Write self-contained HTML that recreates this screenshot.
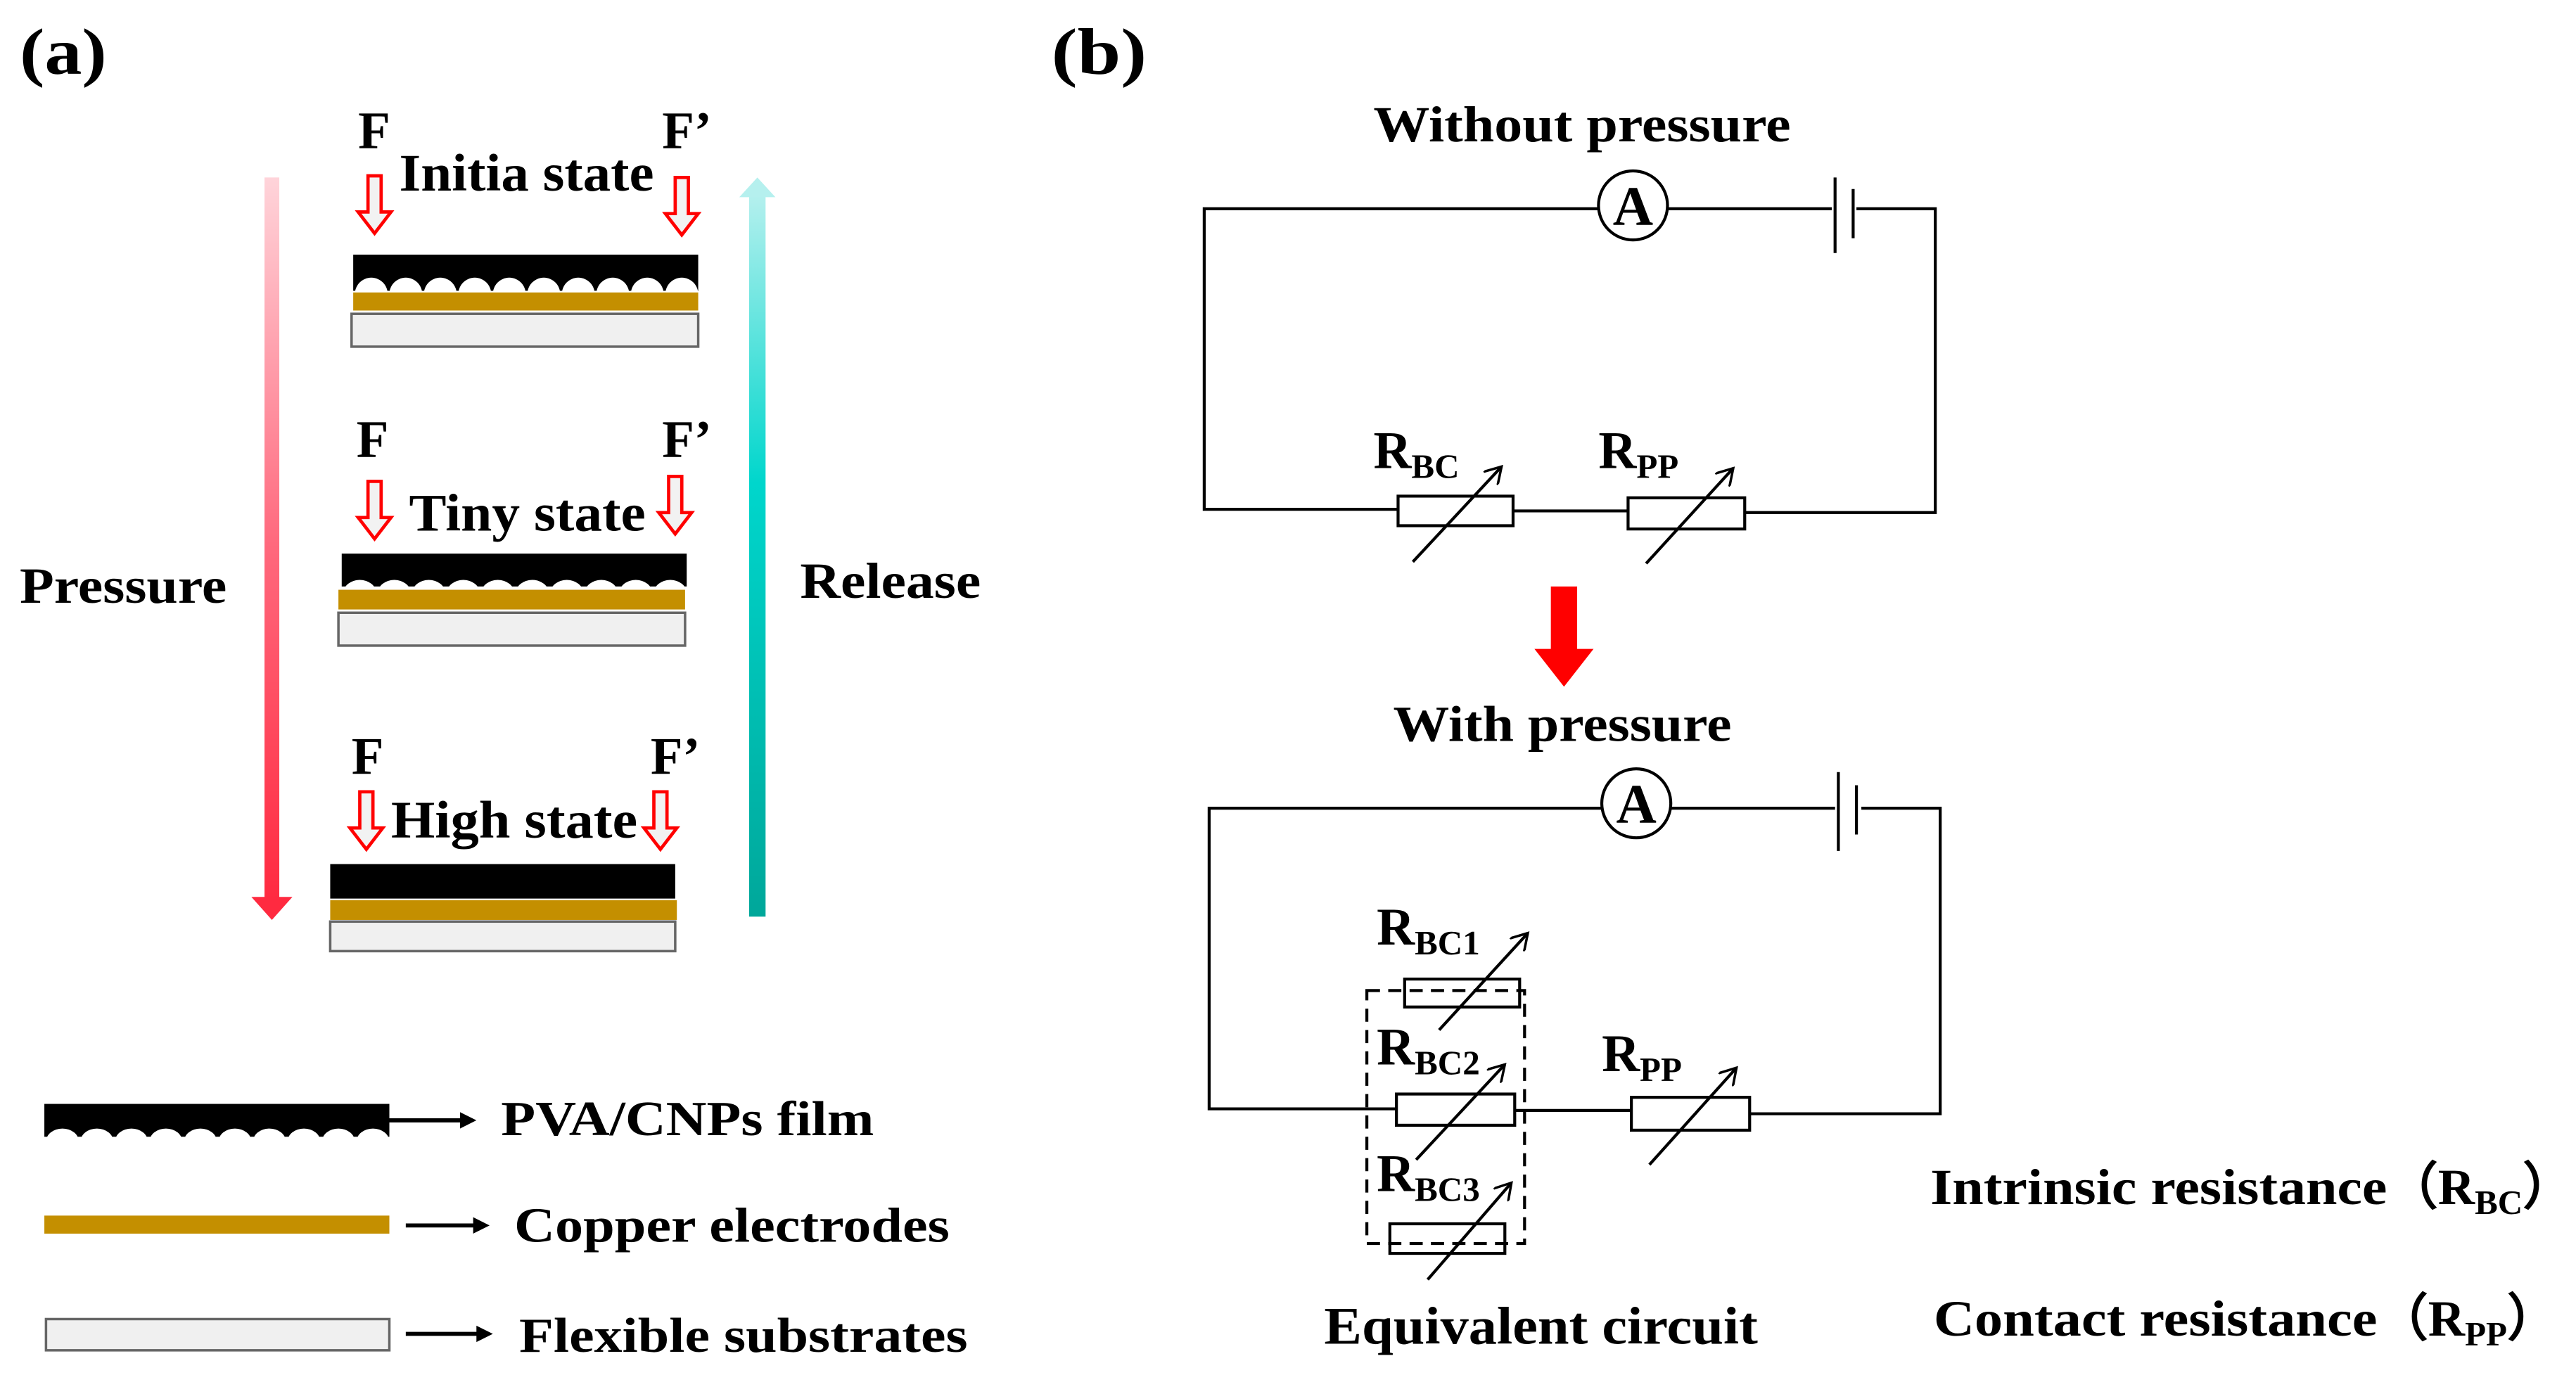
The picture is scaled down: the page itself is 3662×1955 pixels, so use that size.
<!DOCTYPE html>
<html><head><meta charset="utf-8"><style>
html,body{margin:0;padding:0;background:#fff;}
svg{display:block;}
text{font-family:"Liberation Serif",serif;font-weight:bold;fill:#000;}
</style></head><body>
<svg width="3662" height="1955" viewBox="0 0 1568 837" xmlns="http://www.w3.org/2000/svg">
<defs>
<linearGradient id="pr" x1="0" y1="0" x2="0" y2="1"><stop offset="0" stop-color="#ffd4da"/><stop offset="0.5" stop-color="#ff6a7e"/><stop offset="1" stop-color="#ff2a40"/></linearGradient>
<linearGradient id="rl" x1="0" y1="1" x2="0" y2="0"><stop offset="0" stop-color="#00a79a"/><stop offset="0.6" stop-color="#00d6cc"/><stop offset="1" stop-color="#b5f0ee"/></linearGradient>
<g id="harrow"><path d="M-4,0 h8 v22 h6 l-10,13 l-10,-13 h6 z" fill="#f2f2f2" stroke="#ff0000" stroke-width="2"/></g>
<g id="bumps"><circle cx="10" cy="0" r="10"/><circle cx="31" cy="0" r="10"/><circle cx="52" cy="0" r="10"/><circle cx="73" cy="0" r="10"/><circle cx="94" cy="0" r="10"/><circle cx="115" cy="0" r="10"/><circle cx="136" cy="0" r="10"/><circle cx="157" cy="0" r="10"/><circle cx="178" cy="0" r="10"/><circle cx="199" cy="0" r="10"/></g>
<marker id="ah" markerWidth="12" markerHeight="12" refX="10" refY="6" orient="auto" markerUnits="userSpaceOnUse"><path d="M0,0 L10,6 L0,12" fill="none" stroke="#000" stroke-width="1.5"/></marker>
</defs>
<text x="12" y="45" font-size="40" textLength="53" lengthAdjust="spacingAndGlyphs">(a)</text>
<text x="640" y="45" font-size="40" textLength="58" lengthAdjust="spacingAndGlyphs">(b)</text>
<rect x="161" y="108" width="9" height="440" fill="url(#pr)"/>
<path d="M153,546 h25 l-12.5,14 z" fill="#ff2a40"/>
<rect x="456" y="118" width="10" height="440" fill="url(#rl)"/>
<path d="M450,120 h22 l-11,-12 z" fill="#b5f0ee"/>
<text x="12" y="367" font-size="31" textLength="126" lengthAdjust="spacingAndGlyphs">Pressure</text>
<text x="487" y="364" font-size="31" textLength="110" lengthAdjust="spacingAndGlyphs">Release</text>
<text x="218" y="90" font-size="32">F</text><text x="403" y="90" font-size="32">F’</text>
<text x="243" y="116" font-size="32" textLength="155" lengthAdjust="spacingAndGlyphs">Initia state</text>
<use href="#harrow" x="228" y="107"/><use href="#harrow" x="415" y="108"/>
<rect x="215" y="155" width="210" height="22" fill="#000"/>
<g fill="#fff" transform="translate(216,179)"><use href="#bumps"/></g>
<rect x="215" y="178" width="210" height="11" fill="#c48f00"/>
<rect x="214" y="191" width="211" height="20" fill="#f0f0f0" stroke="#666" stroke-width="1.5"/>
<text x="217" y="278" font-size="32">F</text><text x="403" y="278" font-size="32">F’</text>
<text x="249" y="323" font-size="32" textLength="144" lengthAdjust="spacingAndGlyphs">Tiny state</text>
<use href="#harrow" x="228" y="293"/><use href="#harrow" x="411" y="290"/>
<rect x="208" y="337" width="210" height="20" fill="#000"/>
<g fill="#fff" transform="translate(209,361) scale(1,0.8)"><use href="#bumps"/></g>
<rect x="206" y="359" width="211" height="12" fill="#c48f00"/>
<rect x="206" y="373" width="211" height="20" fill="#f0f0f0" stroke="#666" stroke-width="1.5"/>
<text x="214" y="471" font-size="32">F</text><text x="396" y="471" font-size="32">F’</text>
<text x="238" y="510" font-size="32" textLength="150" lengthAdjust="spacingAndGlyphs">High state</text>
<use href="#harrow" x="223" y="482"/><use href="#harrow" x="402" y="482"/>
<rect x="201" y="526" width="210" height="21" fill="#000"/>
<rect x="201" y="548" width="211" height="12" fill="#c48f00"/>
<rect x="201" y="561" width="210" height="18" fill="#f0f0f0" stroke="#666" stroke-width="1.5"/>
<rect x="27" y="672" width="210" height="20" fill="#000"/>
<g fill="#fff" transform="translate(28,695) scale(1,0.8)"><use href="#bumps"/></g>
<line x1="237" y1="682" x2="282" y2="682" stroke="#000" stroke-width="2.5"/><path d="M280,677 l10,5 l-10,5 z"/>
<text x="305" y="691" font-size="30" textLength="227" lengthAdjust="spacingAndGlyphs">PVA/CNPs film</text>
<rect x="27" y="740" width="210" height="11" fill="#c48f00"/>
<line x1="247" y1="746" x2="290" y2="746" stroke="#000" stroke-width="2.5"/><path d="M288,741 l10,5 l-10,5 z"/>
<text x="313" y="756" font-size="30" textLength="265" lengthAdjust="spacingAndGlyphs">Copper electrodes</text>
<rect x="28" y="803" width="209" height="19" fill="#f0f0f0" stroke="#666" stroke-width="1.5"/>
<line x1="247" y1="812" x2="292" y2="812" stroke="#000" stroke-width="2.5"/><path d="M290,807 l10,5 l-10,5 z"/>
<text x="316" y="823" font-size="30" textLength="273" lengthAdjust="spacingAndGlyphs">Flexible substrates</text>
<text x="836" y="86" font-size="31" textLength="254" lengthAdjust="spacingAndGlyphs">Without pressure</text>
<g fill="none" stroke="#000" stroke-width="1.8">
<path d="M973,127 H733 V310 H851 M921,311 H991 M1062,312 H1178 V127 H1130 M1115,127 H1015"/>
<circle cx="994" cy="125" r="21"/>
<line x1="1117" y1="108" x2="1117" y2="154"/><line x1="1128" y1="115" x2="1128" y2="145"/>
<rect x="851" y="302" width="70" height="18"/><rect x="991" y="303" width="71" height="19"/>
<line x1="860" y1="342" x2="914" y2="284" marker-end="url(#ah)"/>
<line x1="1002" y1="343" x2="1055" y2="285" marker-end="url(#ah)"/>
</g>
<text x="994" y="137" font-size="34" text-anchor="middle">A</text>
<text x="836" y="285" font-size="32">R<tspan font-size="21" dy="6">BC</tspan></text>
<text x="973" y="285" font-size="32">R<tspan font-size="21" dy="6">PP</tspan></text>
<rect x="944" y="357" width="16" height="40" fill="#ff0000"/><path d="M934,395 h36 l-18,23 z" fill="#ff0000"/>
<text x="848" y="451" font-size="31" textLength="206" lengthAdjust="spacingAndGlyphs">With pressure</text>
<g fill="none" stroke="#000" stroke-width="1.8">
<path d="M975,492 H736 V675 H850 M922,676 H993 M1065,678 H1181 V492 H1133 M1117,492 H1017"/>
<circle cx="996" cy="489" r="21"/>
<line x1="1119" y1="470" x2="1119" y2="518"/><line x1="1130" y1="478" x2="1130" y2="508"/>
<rect x="855" y="596" width="70" height="17"/>
<rect x="850" y="666" width="72" height="19"/>
<rect x="846" y="745" width="70" height="18"/>
<rect x="993" y="668" width="72" height="20"/>
<rect x="832" y="603" width="96" height="154" stroke-dasharray="8,5"/>
<line x1="876" y1="627" x2="930" y2="568" marker-end="url(#ah)"/>
<line x1="862" y1="706" x2="916" y2="648" marker-end="url(#ah)"/>
<line x1="869" y1="779" x2="920" y2="720" marker-end="url(#ah)"/>
<line x1="1004" y1="709" x2="1057" y2="650" marker-end="url(#ah)"/>
</g>
<text x="996" y="501" font-size="34" text-anchor="middle">A</text>
<text x="838" y="575" font-size="32">R<tspan font-size="21" dy="6">BC1</tspan></text>
<text x="838" y="648" font-size="32">R<tspan font-size="21" dy="6">BC2</tspan></text>
<text x="838" y="725" font-size="32">R<tspan font-size="21" dy="6">BC3</tspan></text>
<text x="975" y="652" font-size="32">R<tspan font-size="21" dy="6">PP</tspan></text>
<text x="806" y="818" font-size="32" textLength="264" lengthAdjust="spacingAndGlyphs">Equivalent circuit</text>
<text x="1175" y="733" font-size="31"><tspan textLength="278" lengthAdjust="spacingAndGlyphs">Intrinsic resistance</tspan>（R<tspan font-size="21" dy="6">BC</tspan><tspan dy="-6">）</tspan></text>
<text x="1177" y="813" font-size="31"><tspan textLength="270" lengthAdjust="spacingAndGlyphs">Contact resistance</tspan>（R<tspan font-size="21" dy="6">PP</tspan><tspan dy="-6">）</tspan></text>
</svg>
</body></html>
